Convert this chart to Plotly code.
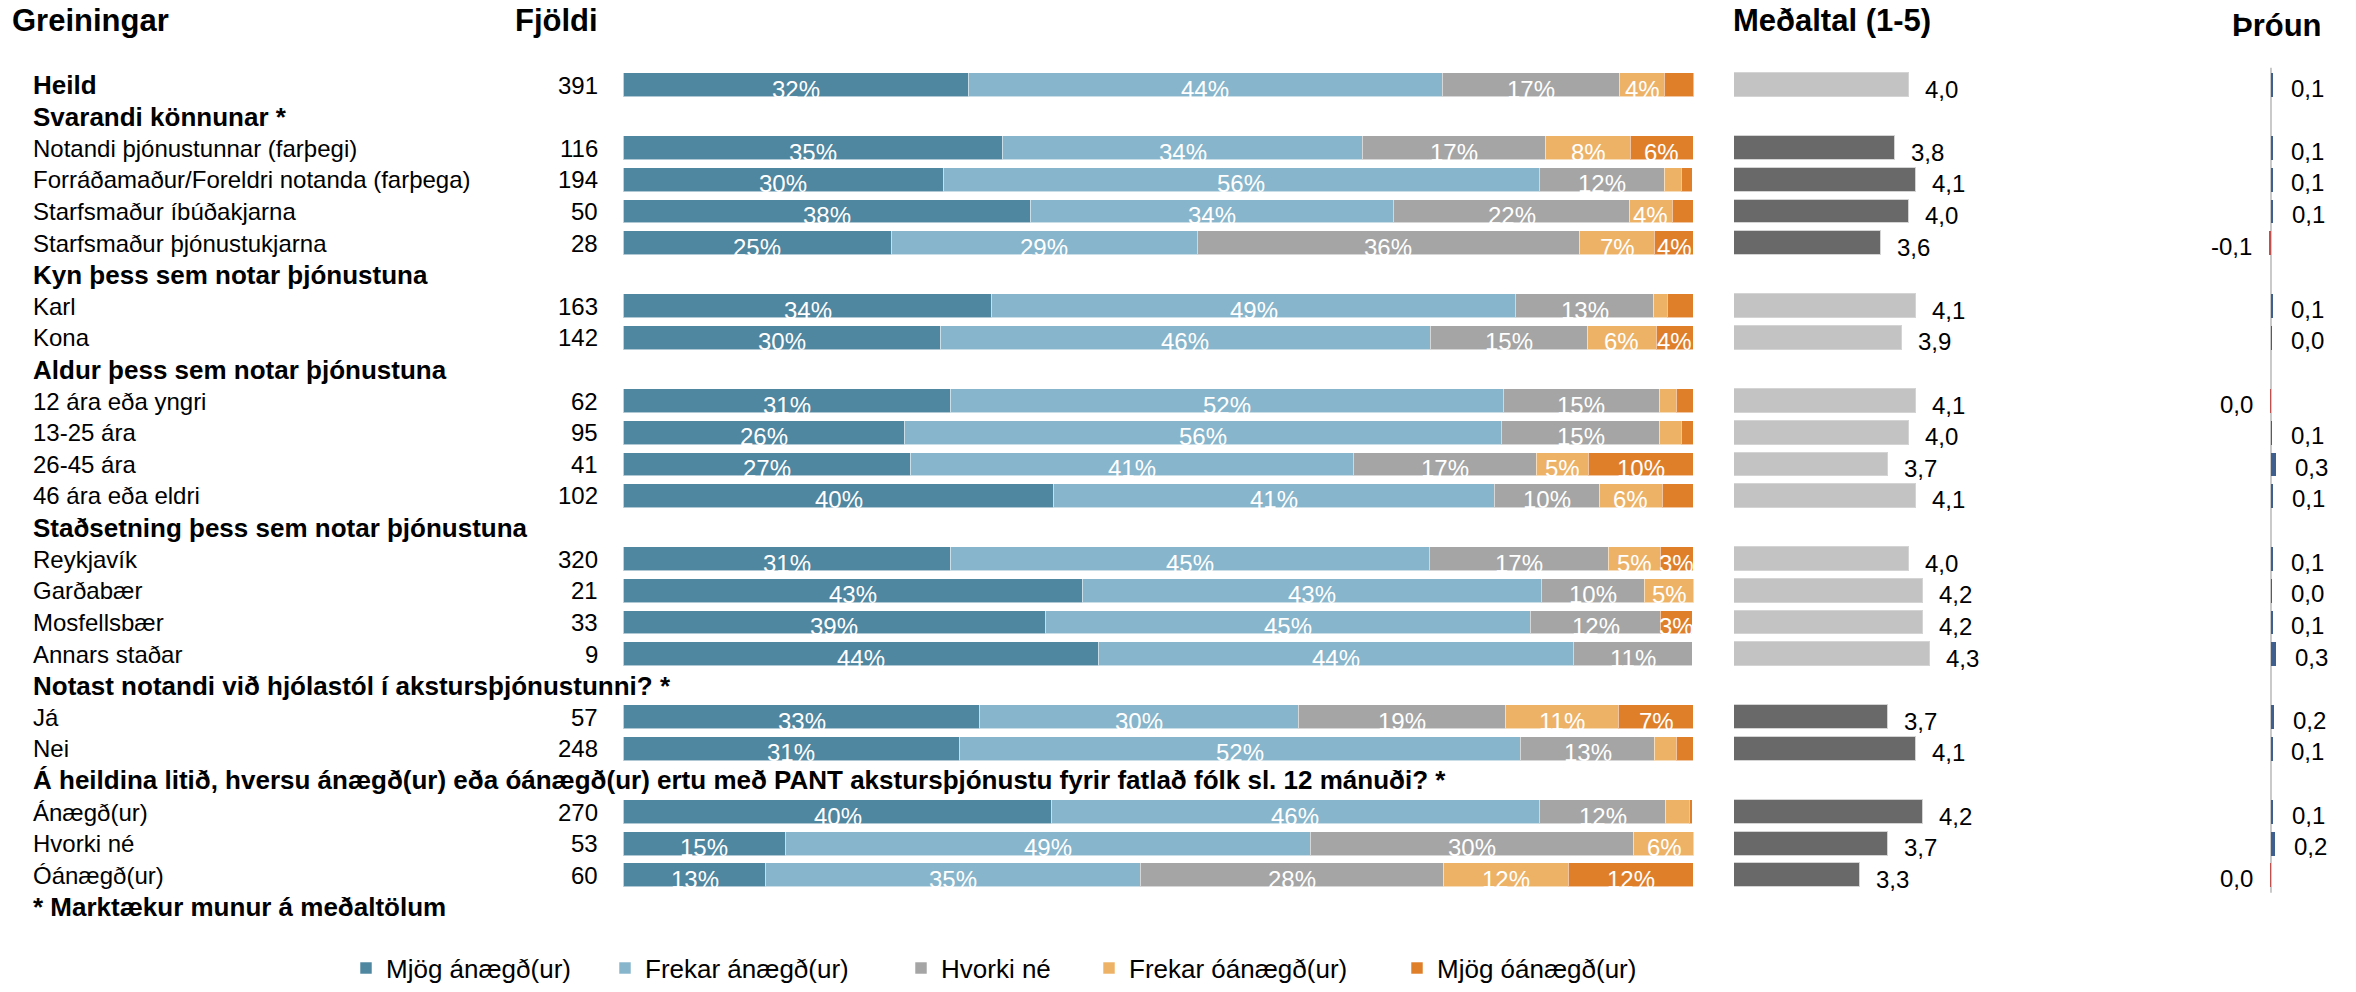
import plotly.graph_objects as go

W, H = 2356, 992
FONT = "Liberation Sans, Arial, sans-serif"

# ---------------- data ----------------
sections = [
    (None, ["Heild"]),
    ("Svarandi könnunar *", ["Notandi þjónustunnar (farþegi)",
                             "Forráðamaður/Foreldri notanda (farþega)",
                             "Starfsmaður íbúðakjarna",
                             "Starfsmaður þjónustukjarna"]),
    ("Kyn þess sem notar þjónustuna", ["Karl", "Kona"]),
    ("Aldur þess sem notar þjónustuna", ["12 ára eða yngri", "13-25 ára",
                                         "26-45 ára", "46 ára eða eldri"]),
    ("Staðsetning þess sem notar þjónustuna", ["Reykjavík", "Garðabær",
                                               "Mosfellsbær", "Annars staðar"]),
    ("Notast notandi við hjólastól í akstursþjónustunni? *", ["Já", "Nei"]),
    ("Á heildina litið, hversu ánægð(ur) eða óánægð(ur) ertu með PANT "
     "akstursþjónustu fyrir fatlað fólk sl. 12 mánuði? *",
     ["Ánægð(ur)", "Hvorki né", "Óánægð(ur)"]),
]
footnote = "* Marktækur munur á meðaltölum"

categories = ["Heild",
              "Notandi þjónustunnar (farþegi)", "Forráðamaður/Foreldri notanda (farþega)",
              "Starfsmaður íbúðakjarna", "Starfsmaður þjónustukjarna",
              "Karl", "Kona",
              "12 ára eða yngri", "13-25 ára", "26-45 ára", "46 ára eða eldri",
              "Reykjavík", "Garðabær", "Mosfellsbær", "Annars staðar",
              "Já", "Nei",
              "Ánægð(ur)", "Hvorki né", "Óánægð(ur)"]

counts = [391, 116, 194, 50, 28, 163, 142, 62, 95, 41, 102,
          320, 21, 33, 9, 57, 248, 270, 53, 60]

series_names = ["Mjög ánægð(ur)", "Frekar ánægð(ur)", "Hvorki né",
                "Frekar óánægð(ur)", "Mjög óánægð(ur)"]
mjog_anaegd = [32.2, 35.4, 29.9, 38.0, 25.0, 34.4, 29.6, 30.6, 26.3, 26.8, 40.2,
               30.6, 42.9, 39.4, 44.4, 33.3, 31.4, 40.0, 15.1, 13.3]
frekar_anaegd = [44.3, 33.7, 55.7, 34.0, 28.6, 49.0, 45.8, 51.6, 55.8, 41.4, 41.2,
                 44.7, 42.9, 45.4, 44.4, 29.8, 52.4, 45.6, 49.1, 35.0]
hvorki = [16.6, 17.1, 11.7, 22.0, 35.7, 12.9, 14.7, 14.6, 14.7, 17.1, 9.8,
          16.8, 9.6, 12.1, 11.1, 19.3, 12.6, 11.8, 30.2, 28.3]
frekar_oanaegd = [4.2, 7.9, 1.6, 4.0, 7.1, 1.3, 6.4, 1.6, 2.1, 4.9, 5.9,
                  4.8, 4.8, 0.0, 0.0, 10.6, 2.0, 2.2, 5.7, 11.7]
mjog_oanaegd = [2.8, 5.9, 1.0, 2.0, 3.6, 2.4, 3.5, 1.6, 1.1, 9.8, 2.9,
                3.1, 0.0, 3.0, 0.0, 7.0, 1.6, 0.3, 0.0, 11.7]

medaltal = [4.0, 3.8, 4.1, 4.0, 3.6, 4.1, 3.9, 4.1, 4.0, 3.7, 4.1,
            4.0, 4.2, 4.2, 4.3, 3.7, 4.1, 4.2, 3.7, 3.3]

throun = [0.08, 0.08, 0.07, 0.14, -0.12, 0.08, 0.04, -0.04, 0.06, 0.30, 0.14,
          0.07, 0.04, 0.07, 0.30, 0.20, 0.07, 0.12, 0.22, -0.04]

# ---------------- styles ----------------
series_colors = ["#4F86A0", "#87B5CB", "#A5A5A5", "#EDB266", "#E07F2A"]
MEAN_LIGHT, MEAN_DARK = "#C3C3C3", "#696969"
POS_COLOR, NEG_COLOR = "#3F5F8F", "#C0504D"
FS = 24
FS_BOLD = 26
FS_HEAD = 31

# ---------------- row layout ----------------
rows = []          # (label, kind)
sig = {}
for heading, members in sections:
    if heading:
        rows.append((heading, "heading"))
    for m in members:
        rows.append((m, "total" if heading is None else "data"))
        sig[m] = bool(heading) and heading.strip().endswith("*")
rows.append((footnote, "heading"))
ypos_of = {}
for i, (lab, kind) in enumerate(rows):
    if kind != "heading":
        ypos_of[lab] = i
ypos = [ypos_of[c] for c in categories]

# pixel geometry -> paper / axis ranges
row0_px, pitch = 85.6, 31.8
y_top = -row0_px / pitch
y_bot = y_top + H / pitch

def px(x):
    return x / W

fig = go.Figure()

series_vals = [mjog_anaegd, frekar_anaegd, hvorki, frekar_oanaegd, mjog_oanaegd]
legend_ids = ["legend", "legend2", "legend3", "legend4", "legend5"]
for name, vals, col, lid in zip(series_names, series_vals, series_colors, legend_ids):
    fig.add_trace(go.Bar(
        x=vals, y=ypos, orientation="h", name=name, width=0.75,
        marker=dict(color=col, line=dict(color="rgba(255,255,255,0.55)", width=1)),
        xaxis="x", yaxis="y", legend=lid, hoverinfo="x+name"))

# mean bars
fig.add_trace(go.Bar(
    x=medaltal, y=ypos, orientation="h", width=0.75, showlegend=False,
    marker=dict(color=[MEAN_DARK if sig[c] else MEAN_LIGHT for c in categories],
                line=dict(color="#D4D4D4", width=1.5)),
    xaxis="x2", yaxis="y"))

# trend bars
fig.add_trace(go.Bar(
    x=throun, y=ypos, orientation="h", width=0.75, showlegend=False,
    marker=dict(color=[POS_COLOR if v >= 0 else NEG_COLOR for v in throun], line=dict(width=0)),
    xaxis="x3", yaxis="y"))

ann = []
# percentage labels inside stacked bars
for k, c in enumerate(categories):
    cum = 0.0
    for vals in series_vals:
        v = vals[k]
        if v >= 3.0:
            ann.append(dict(x=cum + v / 2, y=ypos[k], xref="x", yref="y",
                            text=f"{v:.0f}%", showarrow=False, yshift=-4,
                            font=dict(family=FONT, size=FS, color="white")))
        cum += v

# row labels and counts
for i, (lab, kind) in enumerate(rows):
    bold = kind in ("heading", "total")
    txt = f"<b>{lab}</b>" if bold else lab
    ann.append(dict(x=px(31), y=i, xref="paper", yref="y", text=txt, showarrow=False,
                    xanchor="left",
                    font=dict(family=FONT, size=FS_BOLD if bold else FS, color="black")))
for k, c in enumerate(categories):
    ann.append(dict(x=px(600), y=ypos[k], xref="paper", yref="y", text=str(counts[k]),
                    showarrow=False, xanchor="right",
                    font=dict(family=FONT, size=FS, color="black")))
    # mean label
    ann.append(dict(x=medaltal[k], y=ypos[k], xref="x2", yref="y",
                    text=f"{medaltal[k]:.1f}".replace(".", ","), showarrow=False,
                    xanchor="left", xshift=14, yshift=-4,
                    font=dict(family=FONT, size=FS, color="black")))
    # trend label
    v = throun[k]
    t = f"{abs(v):.1f}" if round(v, 1) == 0 else f"{v:.1f}"
    t = t.replace(".", ",")
    ann.append(dict(x=v, y=ypos[k], xref="x3", yref="y", text=t, showarrow=False,
                    xanchor="left" if v >= 0 else "right",
                    xshift=17 if v >= 0 else -15, yshift=-3,
                    font=dict(family=FONT, size=FS, color="black")))

# column headers
hy = -2.05
head_font = dict(family=FONT, size=FS_HEAD, color="black")
ann.append(dict(x=px(10), y=hy, xref="paper", yref="y", text="<b>Greiningar</b>",
                showarrow=False, xanchor="left", font=head_font))
ann.append(dict(x=px(600), y=hy, xref="paper", yref="y", text="<b>Fjöldi</b>",
                showarrow=False, xanchor="right", font=head_font))
ann.append(dict(x=px(1731), y=hy, xref="paper", yref="y", text="<b>Meðaltal (1-5)</b>",
                showarrow=False, xanchor="left", font=head_font))
ann.append(dict(x=px(2277), y=-1.9, xref="paper", yref="y", text="<b>Þróun</b>",
                showarrow=False, xanchor="center", font=head_font))

# geometry of the axes
bar_x0, bar_x1 = 623.5, 1693.5
mean_x0, mean_x1, mean_ppu, mean_min = 1734, 2150, 70.0, 1.5
tr_x0, tr_x1, tr_zero, tr_ppu = 2200, 2345, 2271, 16.0

layout_axes = dict(
    xaxis=dict(domain=[px(bar_x0), px(bar_x1)], range=[0, 100], visible=False, anchor="y"),
    xaxis2=dict(domain=[px(mean_x0), px(mean_x1)],
                range=[mean_min, mean_min + (mean_x1 - mean_x0) / mean_ppu],
                visible=False, anchor="y"),
    xaxis3=dict(domain=[px(tr_x0), px(tr_x1)],
                range=[-(tr_zero - tr_x0) / tr_ppu, (tr_x1 - tr_zero) / tr_ppu],
                visible=False, anchor="y"),
    yaxis=dict(domain=[0, 1], range=[y_bot, y_top], visible=False),
)

shapes = [dict(type="line", xref="x3", yref="y", x0=0, x1=0, y0=-0.55, y1=25.55,
               line=dict(color="#A6A6A6", width=1.2), layer="below")]

# legends positioned individually
leg_text_px = [384, 643, 939, 1127, 1435]
leg_y = 1 - 974 / H
legends = {}
for lid, tx in zip(legend_ids, leg_text_px):
    legends[lid] = dict(x=px(tx - 38), y=leg_y, xanchor="left", yanchor="middle",
                        orientation="h", bgcolor="rgba(0,0,0,0)",
                        font=dict(family=FONT, size=26, color="black"))

fig.update_layout(
    width=W, height=H, margin=dict(l=0, r=0, t=0, b=0),
    paper_bgcolor="white", plot_bgcolor="white",
    barmode="stack", bargap=0, showlegend=True,
    annotations=ann, shapes=shapes,
    font=dict(family=FONT, size=FS, color="black"),
    **layout_axes, **legends)

fig.write_html("out.html", config={"displayModeBar": False},
               post_script="document.body.style.margin='0px';document.body.style.overflow='hidden';")
